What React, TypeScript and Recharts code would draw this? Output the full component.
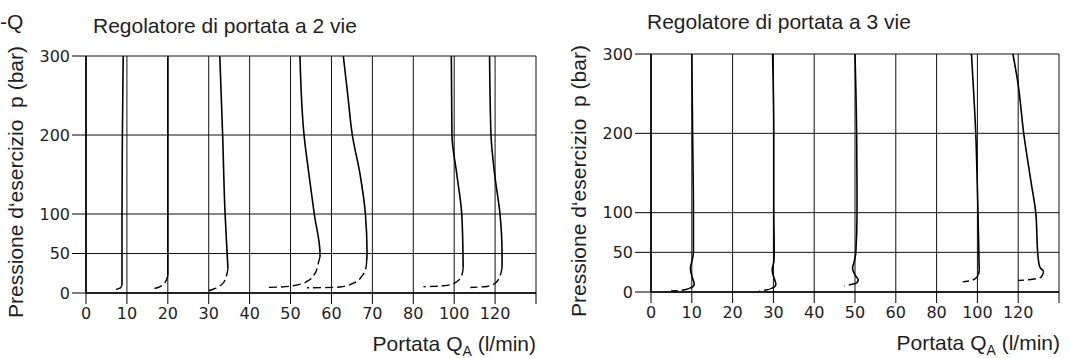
import React from "react";
import { CartesianGrid, Line, LineChart, XAxis, YAxis } from "recharts";

type Pt = [number, number]; // [flow l/min, pressure bar]

// x axis labels (l/min); one more unlabelled tick closes the frame on the right
const flowTicks2Way = [0, 10, 20, 30, 40, 50, 60, 70, 80, 100, 120];
const flowTicks3Way = [0, 10, 20, 30, 40, 50, 60, 80, 100, 120];
const pressureTicks = [0, 50, 100, 200, 300];

// 2-way regulator curves
const w2c1Solid: Pt[] = [[9.1, 300], [8.9, 200], [8.8, 100], [8.8, 50], [8.8, 10]];
const w2c1Dash: Pt[] = [[8.8, 10], [8.4, 6.5], [7.8, 5.2], [7.0, 4.2]];
const w2c2Solid: Pt[] = [[20, 300], [20, 200], [20, 100], [20, 50], [20, 22]];
const w2c2Dash: Pt[] = [[20, 22], [19.6, 16], [18.8, 10.5], [17.6, 7], [15.9, 5]];
const w2c3Solid: Pt[] = [[32.7, 300], [33.4, 200], [34.0, 100], [34.5, 50], [34.7, 31]];
const w2c3Dash: Pt[] = [[34.7, 31], [34.5, 25], [33.5, 12.5], [31.8, 6.3], [30.6, 3.8], [29.0, 2]];
const w2c4Solid: Pt[] = [[52.3, 300], [53.3, 200], [54.5, 150], [55.8, 100], [57.2, 50], [57.2, 46]];
const w2c4Dash: Pt[] = [[57.2, 46], [56.8, 38], [56.0, 25], [54.0, 14.6], [50.7, 9.2], [47.4, 7.6], [44.6, 7.1]];
const w2c5Solid: Pt[] = [[62.9, 300], [64.0, 250], [65.1, 200], [67.0, 150], [68.3, 100], [68.7, 50], [68.6, 40]];
const w2c5Dash: Pt[] = [[68.6, 40], [68.5, 34], [67.4, 21], [65.4, 12.6], [62.1, 7.6], [58, 6.8], [54, 6.7]];
const w2c6Solid: Pt[] = [[98.6, 300], [98.9, 200], [101.3, 150], [103.7, 100], [104.3, 50], [104.4, 32]];
const w2c6Dash: Pt[] = [[104.4, 32], [103.8, 23], [101.4, 14.6], [96.5, 9.6], [90, 8.4], [85, 8.0]];
const w2c7Solid: Pt[] = [[117.3, 300], [118, 200], [119.8, 150], [122.4, 100], [123.4, 50], [123.4, 32]];
const w2c7Dash: Pt[] = [[123.4, 32], [122.6, 23], [120.2, 12.6], [116, 8.3], [112, 7.5], [107.9, 7]];

// 3-way regulator curves
const w3c1Solid: Pt[] = [[10.0, 300], [10.2, 200], [10.4, 100], [10.4, 50], [10.0, 38], [9.65, 30], [10.2, 17], [10.6, 10], [10.2, 6.5], [9.4, 4.7]];
const w3c1Dash: Pt[] = [[9.4, 4.7], [7.4, 2.1], [4.9, 1.3]];
const w3c2Solid: Pt[] = [[29.8, 300], [30.1, 200], [30.1, 100], [30.2, 50], [30.1, 38], [29.7, 28], [30.2, 17], [30.6, 10], [30.3, 6.5], [29.6, 4.7]];
const w3c2Dash: Pt[] = [[29.6, 4.7], [28.2, 2.5], [26.6, 1.7]];
const w3c3Solid: Pt[] = [[50.0, 300], [50.4, 200], [50.5, 100], [50.2, 50], [49.8, 38], [49.4, 30], [50.0, 21.5], [50.8, 15], [50.4, 11]];
const w3c3Dash: Pt[] = [[50.4, 11], [48.5, 8.8], [47.4, 7.6]];
const w3c4Solid: Pt[] = [[97.1, 300], [98.2, 250], [99.2, 200], [99.8, 150], [100.3, 100], [100.7, 50], [100.8, 36], [100.9, 28], [100.5, 22]];
const w3c4Dash: Pt[] = [[100.5, 22], [99.8, 19], [97.8, 15.1], [95, 13.6], [92.8, 12.8]];
const w3c5Solid: Pt[] = [[117.4, 300], [119.9, 263], [122.7, 200], [126.4, 137], [128.6, 100], [129.7, 45], [130.5, 32], [132.5, 26]];
const w3c5Dash: Pt[] = [[132.5, 26], [131.4, 19.3], [127.2, 16], [120, 14.5]];

const curves2Way = [
  [w2c1Solid, w2c1Dash], [w2c2Solid, w2c2Dash], [w2c3Solid, w2c3Dash], [w2c4Solid, w2c4Dash],
  [w2c5Solid, w2c5Dash], [w2c6Solid, w2c6Dash], [w2c7Solid, w2c7Dash],
];
const curves3Way = [
  [w3c1Solid, w3c1Dash], [w3c2Solid, w3c2Dash], [w3c3Solid, w3c3Dash],
  [w3c4Solid, w3c4Dash], [w3c5Solid, w3c5Dash],
];

const TEXT_FONT = "'Liberation Sans', Arial, sans-serif";
const TICK_FONT = "'DejaVu Sans', sans-serif";
const INK = "#1e1e1e";

// the flow axis is not linear (steps of 10, then 20): place a flow on its tick index
function flowToAxis(q: number, ticks: number[]) {
  for (let i = 0; i < ticks.length - 1; i++) {
    if (q <= ticks[i + 1]) return i + (q - ticks[i]) / (ticks[i + 1] - ticks[i]);
  }
  const n = ticks.length;
  const step = ticks[n - 1] - ticks[n - 2];
  return n - 1 + (q - ticks[n - 1]) / step;
}

interface FlowChartProps {
  flowTicks: number[];
  curves: Pt[][][];
  left: number;
  width: number;
  plotTop: number;
  plotBottom: number;
  yAxisWidth: number;
  marginRight: number;
  yTickSize: number;
}

function FlowChart({ flowTicks, curves, left, width, plotTop, plotBottom, yAxisWidth, marginRight, yTickSize }: FlowChartProps) {
  const xTicks = [...flowTicks.map((_, i) => i), flowTicks.length];
  const toData = (pts: Pt[]) => pts.map(([q, p]) => ({ x: flowToAxis(q, flowTicks), y: p }));

  return (
    <div style={{ position: "absolute", left, top: 0 }}>
      <LineChart
        height={358}
        margin={{ top: plotTop, right: marginRight, left: 0, bottom: 358 - plotBottom - 30 }}
        width={width}
      >
        <CartesianGrid stroke="#111" strokeWidth={1} />
        <XAxis
          allowDataOverflow
          axisLine={{ stroke: "#000", strokeWidth: 1.6 }}
          dataKey="x"
          domain={[0, flowTicks.length]}
          height={30}
          interval={0}
          tick={{ fill: INK, fontSize: 16, fontFamily: TICK_FONT }}
          tickFormatter={(i: number) => (i < flowTicks.length ? String(flowTicks[i]) : "")}
          tickLine={{ stroke: "#000" }}
          tickMargin={4}
          tickSize={11}
          ticks={xTicks}
          type="number"
        />
        <YAxis
          axisLine={{ stroke: "#000", strokeWidth: 1.6 }}
          dataKey="y"
          domain={[0, 300]}
          interval={0}
          tick={{ fill: INK, fontSize: 16, fontFamily: TICK_FONT }}
          tickLine={{ stroke: "#000" }}
          tickSize={yTickSize}
          ticks={pressureTicks}
          type="number"
          width={yAxisWidth}
        />
        {curves.map(([solid, dash], k) => [
          <Line
            activeDot={false}
            data={toData(solid)}
            dataKey="y"
            dot={false}
            isAnimationActive={false}
            key={`s${k}`}
            stroke="#000"
            strokeWidth={1.6}
            type="monotoneY"
          />,
          <Line
            activeDot={false}
            data={toData(dash)}
            dataKey="y"
            dot={false}
            isAnimationActive={false}
            key={`d${k}`}
            stroke="#000"
            strokeDasharray="8 4"
            strokeWidth={1.4}
            type="monotoneY"
          />,
        ])}
      </LineChart>
    </div>
  );
}

function FlowLabel({ x, y }: { x: number; y: number }) {
  return (
    <text fill={INK} fontFamily={TEXT_FONT} fontSize={21} textAnchor="end" x={x} y={y}>
      Portata Q
      <tspan dy={5} fontSize={14}>A</tspan>
      <tspan dy={-5}> (l/min)</tspan>
    </text>
  );
}

function PressureLabel({ x, y }: { x: number; y: number }) {
  return (
    <text
      dominantBaseline="central"
      fill={INK}
      fontFamily={TEXT_FONT}
      fontSize={21}
      textAnchor="middle"
      transform={`rotate(-90 ${x} ${y})`}
      x={x}
      y={y}
      xmlSpace="preserve"
    >
      Pressione d‘esercizio  p (bar)
    </text>
  );
}

export default function App() {
  return (
    <div style={{ position: "absolute", left: 0, top: 0, width: 1069, height: 358, background: "#fff", overflow: "hidden" }}>
      <FlowChart
        curves={curves2Way}
        flowTicks={flowTicks2Way}
        left={0}
        marginRight={9}
        plotBottom={293}
        plotTop={56}
        width={545}
        yAxisWidth={86}
        yTickSize={14}
      />
      <FlowChart
        curves={curves3Way}
        flowTicks={flowTicks3Way}
        left={560}
        marginRight={10}
        plotBottom={292}
        plotTop={54}
        width={509}
        yAxisWidth={91}
        yTickSize={16}
      />
      <svg height={358} style={{ position: "absolute", left: 0, top: 0, pointerEvents: "none" }} width={1069}>
        <text fill={INK} fontFamily={TEXT_FONT} fontSize={21} x={0} y={29}>-Q</text>
        <text fill={INK} fontFamily={TEXT_FONT} fontSize={21} x={93} y={33}>Regolatore di portata a 2 vie</text>
        <text fill={INK} fontFamily={TEXT_FONT} fontSize={21} x={647} y={29}>Regolatore di portata a 3 vie</text>
        <PressureLabel x={15} y={182} />
        <PressureLabel x={578} y={181} />
        <FlowLabel x={536} y={351} />
        <FlowLabel x={1060} y={350} />
      </svg>
    </div>
  );
}
